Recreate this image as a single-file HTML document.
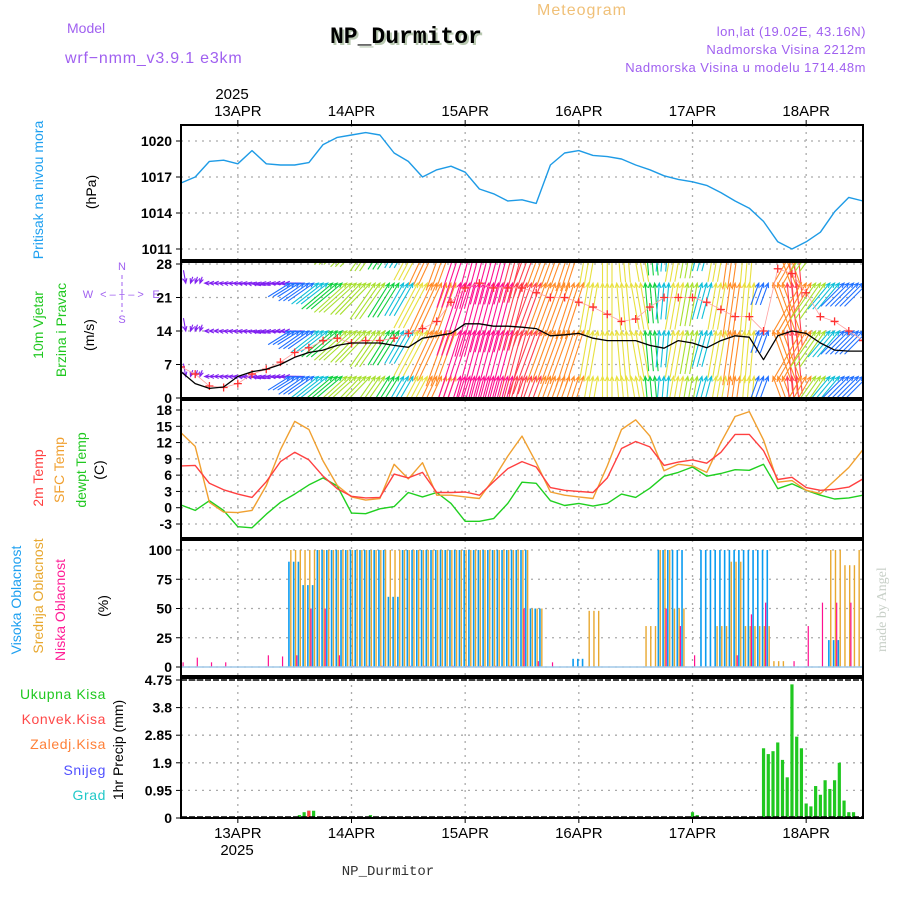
<!DOCTYPE html>
<html><head><meta charset="utf-8"><style>
body{margin:0;background:#fff;}
svg{display:block;font-family:"Liberation Sans",sans-serif;}
</style></head><body>
<svg id="chart" width="900" height="900" viewBox="0 0 900 900" xmlns="http://www.w3.org/2000/svg">
<rect width="900" height="900" fill="#fff"/>
<text x="582" y="15" font-size="16" fill="#f0c078" text-anchor="middle" letter-spacing="1">Meteogram</text>
<text x="67" y="33" font-size="14" fill="#a060f0">Model</text>
<text x="65" y="63" font-size="16" fill="#a060f0" letter-spacing="0.8">wrf−nmm_v3.9.1 e3km</text>
<text x="332" y="45" font-size="23" font-weight="bold" fill="#b8c8b0" font-family="Liberation Mono, monospace">NP_Durmitor</text>
<text x="330" y="43" font-size="23" font-weight="bold" fill="#000" font-family="Liberation Mono, monospace">NP_Durmitor</text>
<text x="866" y="36" font-size="13" fill="#a060f0" text-anchor="end" letter-spacing="0.5">lon,lat (19.02E, 43.16N)</text>
<text x="866" y="54" font-size="13" fill="#a060f0" text-anchor="end" letter-spacing="0.5">Nadmorska Visina 2212m</text>
<text x="866" y="72" font-size="13" fill="#a060f0" text-anchor="end" letter-spacing="0.5">Nadmorska Visina u modelu 1714.48m</text>
<text x="232" y="99" font-size="15" text-anchor="middle">2025</text>
<text x="237" y="855" font-size="15" text-anchor="middle">2025</text>
<text x="388" y="875" font-size="14" text-anchor="middle" font-family="Liberation Mono, monospace" fill="#333">NP_Durmitor</text>
<text transform="translate(886,652) rotate(-90)" font-size="14" fill="#c8d0c8" font-family="Liberation Serif, serif">made by Angel</text>
<text transform="translate(43,190) rotate(-90)" font-size="14" fill="#1ea0f0" text-anchor="middle">Pritisak na nivou mora</text>
<text transform="translate(96,192) rotate(-90)" font-size="14" text-anchor="middle">(hPa)</text>
<text transform="translate(43,325) rotate(-90)" font-size="14" fill="#20c820" text-anchor="middle">10m Vjetar</text>
<text transform="translate(66,330) rotate(-90)" font-size="14" fill="#20c820" text-anchor="middle">Brzina i Pravac</text>
<text transform="translate(94,335) rotate(-90)" font-size="14" text-anchor="middle">(m/s)</text>
<g fill="#a060f0" font-size="11" text-anchor="middle">
<text x="122" y="270">N</text><text x="122" y="323">S</text><text x="88" y="298">W</text><text x="156" y="298">E</text>
<text x="122" y="298" font-size="11">&lt; – + – &gt;</text>
<line x1="122" y1="275" x2="122" y2="312" stroke="#a060f0" stroke-dasharray="4,3"/>
</g>
<text transform="translate(43,478) rotate(-90)" font-size="14" fill="#ff4040" text-anchor="middle">2m Temp</text>
<text transform="translate(64,470) rotate(-90)" font-size="14" fill="#f0a030" text-anchor="middle">SFC Temp</text>
<text transform="translate(86,470) rotate(-90)" font-size="14" fill="#20c820" text-anchor="middle">dewpt Temp</text>
<text transform="translate(104,470) rotate(-90)" font-size="14" text-anchor="middle">(C)</text>
<text transform="translate(21,600) rotate(-90)" font-size="14" fill="#1ea0f0" text-anchor="middle">Visoka Oblacnost</text>
<text transform="translate(43,596) rotate(-90)" font-size="14" fill="#e8a830" text-anchor="middle">Srednja Oblacnost</text>
<text transform="translate(65,610) rotate(-90)" font-size="14" fill="#ff1e96" text-anchor="middle">Niska Oblacnost</text>
<text transform="translate(108,606) rotate(-90)" font-size="14" text-anchor="middle">(%)</text>
<g font-size="14" text-anchor="end" letter-spacing="0.6">
<text x="106" y="699" fill="#20c820">Ukupna Kisa</text>
<text x="106" y="724" fill="#ff4848">Konvek.Kisa</text>
<text x="106" y="749" fill="#ff8038">Zaledj.Kisa</text>
<text x="106" y="775" fill="#5050ff">Snijeg</text>
<text x="106" y="800" fill="#20c8c8">Grad</text>
</g>
<text transform="translate(123,750) rotate(-90)" font-size="14" text-anchor="middle">1hr Precip (mm)</text>
<g id="plot"></g>
</svg>
<script>
const dayLabels = ["13APR","14APR","15APR","16APR","17APR","18APR"];
const pressure = [1016.5,1017,1018.3,1018.4,1018.1,1019.2,1018.1,1018,1018,1018.2,1019.7,1020.3,1020.5,1020.7,1020.5,1019,1018.3,1017,1017.6,1017.9,1017.4,1016,1015.6,1015,1015.1,1014.8,1018,1019,1019.2,1018.8,1018.7,1018.5,1018,1017.6,1017.1,1016.8,1016.6,1016.3,1015.7,1015,1014.4,1013.3,1011.6,1011,1011.6,1012.4,1014.1,1015.3,1015];
const pressureTicks = [1011,1014,1017,1020];
const windSpeed = [5.5,3,2,2.3,4.5,5.5,6,7,8.5,9.5,10,11,11.5,11.5,11.5,11,10.6,12.5,13,13.5,15.5,15.5,15,15,14.8,14.5,13,13.2,13.5,12.5,12,12,12,11,10.4,12,11.5,10.5,12,13,12.7,8,13,14,13.5,11.5,10,9.8,9.8];
const windGust = [6.5,5,2.5,2.2,3,5,6,7.5,9.5,10.5,12,12.5,11.5,12,12,12.5,13.5,14.5,16,20,23,24,23,23,23,22,21,21,20,19,17.5,16,16.5,19,21,21,21,20,18.5,17,17,14,27,26,22,17,16,14,12];
const windDir = [350,20,90,95,95,100,95,90,238,235,232,230,228,224,215,212,210,208,205,200,198,195,195,195,195,200,200,200,198,190,180,175,170,175,185,190,190,195,190,188,185,200,160,175,210,215,220,225,225];
const windTicks = [0,7,14,21,28];
const temp2m = [7.7,7.8,4.5,3.3,2.5,1.9,4.8,8.5,10.2,8.8,5.8,3.5,2.1,1.8,1.9,6.2,5.5,6.5,2.8,2.8,2.9,2.3,4.8,7.2,8.5,7.5,3.7,3.2,3.0,2.8,5.5,10.9,12.2,11.2,7.8,8.4,8.8,8.2,10.2,13.5,13.5,10.5,5.2,5.6,3.7,3.2,3.4,3.8,5.3];
const tempSfc = [13.8,11.3,1.0,-0.8,-0.9,-0.5,4.1,10.7,15.9,14.4,8.6,4.1,2,1.4,1.7,8,5.3,8.3,2.3,2.3,2,1.7,5.3,9.5,13.2,8.3,2.9,2.3,2,1.7,7.7,14.4,16.2,13.2,6.8,8,7.7,6.5,12,16.8,17.7,12.5,4.7,5,3.2,2.6,5,7.4,10.7];
const tempDew = [0.5,-0.5,1.3,-0.5,-3.5,-3.7,-1.2,1.0,2.5,4.2,5.5,4.0,-1.0,-1.1,-0.2,0.2,2.8,2.0,2.8,0.8,-2.5,-2.5,-2.0,0.8,4.7,4.5,1.3,0.4,0.8,0.3,0.8,2.5,1.9,3.6,5.8,6.5,7.5,5.8,6.3,7,6.9,8.0,3.5,4.4,3.2,2.3,1.6,1.8,2.3];
const tempTicks = [-3,0,3,6,9,12,15,18];
const cloudHigh = [0,0,0,0,0,0,0,0,90,70,100,100,100,100,100,60,100,100,100,100,100,100,100,100,100,50,0,0,7,0,0,0,0,0,100,100,0,100,100,100,100,100,0,0,0,0,23,0,0];
const cloudMid = [0,0,0,0,0,0,0,0,100,100,100,100,100,100,100,100,100,100,100,100,100,100,100,100,100,50,0,0,0,48,0,0,0,35,100,50,0,0,35,90,35,35,5,0,0,0,100,87,100];
const cloudLow = [4,8,4,4,0,0,10,9,10,50,50,10,1,1,1,1,1,1,1,1,1,1,1,1,50,5,4,0,0,0,0,0,0,0,50,35,10,0,0,10,45,55,0,5,35,55,55,55,0];
const cloudTicks = [0,25,50,75,100];
const precipHours = [25,26,27,28,40,108,109,123,124,125,126,127,128,129,130,131,132,133,134,135,136,137,138,139,140,141,142];
const precipValues = [0.1,0.2,0.25,0.25,0.1,0.2,0.1,2.4,2.2,2.3,2.6,2.0,1.4,4.6,2.8,2.4,0.5,0.4,1.1,0.8,1.3,1.0,1.3,1.9,0.6,0.2,0.2];
const precipConv = [0,0,0.25,0,0,0,0,0,0,0,0,0,0,0,0,0,0,0,0,0,0,0,0,0,0,0,0];
const precipTicks = ["0","0.95","1.9","2.85","3.8","4.75"];

const X0=181, X1=863;
const xi = i => X0 + i*(X1-X0)/48;
const xh = h => X0 + h*(X1-X0)/144;
const yP = p => 141 + (1020-p)*12;
const yW = v => 398 - v*(134/28);
const yT = t => 410 + (18-t)*(114/21);
const yC = c => 667 - c*1.17;
const yR = m => 818 - m*(138/4.75);
const panels = [[125,260],[262,398],[400,538],[540,676],[678,818]];

const NS="http://www.w3.org/2000/svg";
const plot=document.getElementById('plot');
function mk(tag,attrs,parent){const e=document.createElementNS(NS,tag);for(const k in attrs)e.setAttribute(k,attrs[k]);(parent||plot).appendChild(e);return e;}

const defs=mk('defs',{});
panels.forEach((p,k)=>{const c=mk('clipPath',{id:'clip'+k},defs);mk('rect',{x:X0,y:p[0],width:X1-X0,height:p[1]-p[0]},c);});

const grid=mk('g',{});


function hgrid(y){mk('line',{x1:X0,x2:X1,y1:y,y2:y,stroke:'#aaa','stroke-width':1.3,'stroke-dasharray':'2,5'},grid);}
dayLabels.forEach((d,k)=>{
  const x=xi(4+8*k);
  panels.forEach(p=>{mk('line',{x1:x,x2:x,y1:p[0],y2:p[1],stroke:'#aaa','stroke-width':1.3,'stroke-dasharray':'2,5'},grid);});
  const t1=mk('text',{x:x,y:116,'font-size':15,'text-anchor':'middle'});
  t1.textContent=d;
  
  
  const t2=mk('text',{x:x,y:838,'font-size':15,'text-anchor':'middle'});
  t2.textContent=d;
  
  
  mk('line',{x1:x,x2:x,y1:120,y2:125,stroke:'#000'});
  mk('line',{x1:x,x2:x,y1:818,y2:823,stroke:'#000'});
});
function yTicks(vals,labels,f){vals.forEach((v,k)=>{const y=f(v);hgrid(y);
  const t=mk('text',{x:172,y:y+5,'font-size':14,'font-weight':'bold','text-anchor':'end'});
  t.textContent=labels[k];
  
  
  mk('line',{x1:176,x2:181,y1:y,y2:y,stroke:'#000'});});}
yTicks(pressureTicks,pressureTicks.map(String),yP);
yTicks(windTicks,windTicks.map(String),yW);
yTicks(tempTicks,tempTicks.map(String),yT);
yTicks(cloudTicks,cloudTicks.map(String),yC);
yTicks(precipTicks.map(Number),precipTicks,yR);

function line(arr,fy,color,name,w){
  const d=arr.map((v,i)=>(i?'L':'M')+xi(i).toFixed(1)+','+fy(v).toFixed(1)).join('');
  const p=mk('path',{d:d,fill:'none',stroke:color,'stroke-width':w||1.3,'stroke-linejoin':'round'});
  
  
  return p;
}
line(pressure,yP,'#1e9be6','pressure-line',1.4);

function windColor(s){
  if(s<8)return '#8020f0'; if(s<10)return '#2070ff'; if(s<11)return '#10c0d8'; if(s<11.5)return '#10d040';
  if(s<12)return '#a8e030'; if(s<13)return '#e8e040'; if(s<14)return '#ff8c28'; if(s<15)return '#ff4050'; return '#ff1090';
}
const wg=mk('g',{'clip-path':'url(#clip1)'});


const rows=[-5,4.5,14,24,34];
windSpeed.forEach((s,i)=>{
  const to=(windDir[i]+180)*Math.PI/180;
  const L=4+0.3*s*s;
  const dx=Math.sin(to)*L, dy=-Math.cos(to)*L;
  const col=windColor(s);
  for(let k=-1;k<=1;k++){
    const hx=xi(i)+k*(X1-X0)/144;
    rows.forEach(r=>{
      const hy=yW(r);
      const a=Math.atan2(dy,dx);
      const h1x=hx-5*Math.cos(a-0.4),h1y=hy-5*Math.sin(a-0.4),h2x=hx-5*Math.cos(a+0.4),h2y=hy-5*Math.sin(a+0.4);
      mk('path',{d:`M${hx-dx},${hy-dy}L${hx},${hy}M${h1x},${h1y}L${hx},${hy}L${h2x},${h2y}`,stroke:col,'stroke-width':1.1,fill:'none'},wg);
    });
  }
});
const gg=mk('g',{'clip-path':'url(#clip1)'});


gg.appendChild(line(windGust,yW,'#ffa0a0','gust-line',0.8));
windGust.forEach((g,i)=>{const x=xi(i),y=yW(g);
  const m=mk('path',{d:`M${x-4},${y}h8M${x},${y-4}v8`,stroke:'#ff3030','stroke-width':1.3},gg);
  
  });
gg.appendChild(line(windSpeed,yW,'#000','wind-speed-line',1.3));

const tg=mk('g',{'clip-path':'url(#clip2)'});
tg.appendChild(line(tempDew,yT,'#20d020','dewpoint-line',1.4));
tg.appendChild(line(tempSfc,yT,'#f0a030','sfc-temp-line',1.4));
tg.appendChild(line(temp2m,yT,'#ff4040','temp-2m-line',1.4));

const cg=mk('g',{'clip-path':'url(#clip3)'});


const hw=(X1-X0)/144;
for(let i=0;i<49;i++){
  for(let k=-1;k<=1;k++){
    const x=xi(i)+k*hw;
    if(x<X0||x>X1-2)continue;
    if(cloudHigh[i]>0.5){const r=mk('rect',{x:x-1.8,y:yC(cloudHigh[i]),width:1.6,height:667-yC(cloudHigh[i]),fill:'#0a9cf0'},cg);}
    if(cloudMid[i]>0.5){const r=mk('rect',{x:x+0.2,y:yC(cloudMid[i]),width:1.4,height:667-yC(cloudMid[i]),fill:'#e8a830'},cg);}
    if(cloudLow[i]>0.5&&k===0){const r=mk('rect',{x:x+1.5,y:yC(cloudLow[i]),width:1.2,height:667-yC(cloudLow[i]),fill:'#ff1090'},cg);}
  }
}
mk('line',{x1:X0,x2:X1,y1:667,y2:667,stroke:'#a0c8e8','stroke-width':1.5});

const pg=mk('g',{'clip-path':'url(#clip4)'});


precipHours.forEach((h,k)=>{
  const x=xh(h), v=precipValues[k];
  const r=mk('rect',{x:x-1.6,y:yR(v),width:3.2,height:818-yR(v),fill:'#20c820'},pg);
  
  if(precipConv[k]>0){mk('rect',{x:x-1.6,y:yR(precipConv[k]),width:3.2,height:818-yR(precipConv[k]),fill:'#ff4040'},pg);}
});
mk('line',{x1:X0,x2:X1,y1:680,y2:680,stroke:'#000','stroke-width':1.5,'stroke-dasharray':'6,2'});
mk('line',{x1:X0,x2:X1,y1:817,y2:817,stroke:'#000','stroke-width':1.5,'stroke-dasharray':'6,2'});

panels.forEach(p=>{const r=mk('rect',{x:X0,y:p[0],width:X1-X0,height:p[1]-p[0],fill:'none',stroke:'#000','stroke-width':2});
  
  });
</script>
</body></html>
